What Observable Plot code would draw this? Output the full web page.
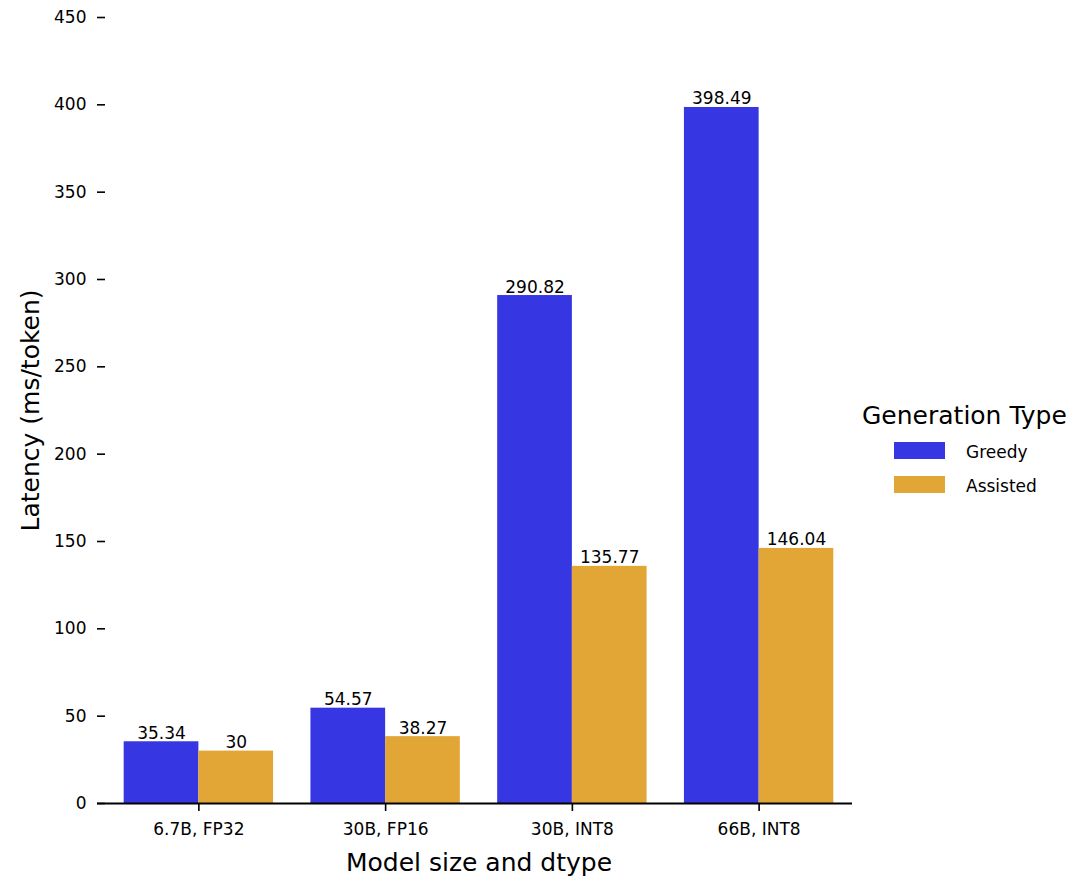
<!DOCTYPE html>
<html>
<head>
<meta charset="utf-8">
<script src="https://cdn.jsdelivr.net/npm/d3@7"></script>
<script src="https://cdn.jsdelivr.net/npm/@observablehq/plot@0.6"></script>
<style>
  html, body { margin: 0; padding: 0; background: #fff; overflow: hidden; }
  body { width: 1080px; height: 881px; position: relative; font-family: "DejaVu Sans", sans-serif; color: #000; }
  #chart { position: absolute; left: 0; top: 0; }
  #legend { position: absolute; left: 0; top: 0; width: 1080px; height: 881px; pointer-events: none; }
  .lg-title { position: absolute; left: 862px; top: 403px; font-size: 25px; line-height: 25px; white-space: nowrap; }
  .lg-sw { position: absolute; left: 894px; width: 51px; height: 17px; }
  .lg-lab { position: absolute; left: 966px; font-size: 17px; line-height: 17px; white-space: nowrap; }
</style>
</head>
<body>
<div id="chart"></div>
<div id="legend"></div>
<script>
// ---- data ----
const categories = ["6.7B, FP32", "30B, FP16", "30B, INT8", "66B, INT8"];
const seriesNames = ["Greedy", "Assisted"];
const greedy = [35.34, 54.57, 290.82, 398.49];
const assisted = [30, 38.27, 135.77, 146.04];
const seriesColors = ["#3636e2", "#e2a636"];
const yTicks = [0, 50, 100, 150, 200, 250, 300, 350, 400, 450];
const xLabel = "Model size and dtype";
const yLabel = "Latency (ms/token)";
const legendTitle = "Generation Type";

// ---- table built from arrays ----
const groupWidth = 0.8;
const barW = groupWidth / seriesNames.length;
const values = [greedy, assisted];
const rows = [];
seriesNames.forEach((s, si) => {
  categories.forEach((c, ci) => {
    const x1 = ci - groupWidth / 2 + si * barW;
    rows.push({category: c, series: s, value: values[si][ci], x1, x2: x1 + barW, xc: x1 + barW / 2});
  });
});

const chart = Plot.plot({
  width: 1080,
  height: 881,
  marginLeft: 105,
  marginRight: 228,
  marginTop: 17,
  marginBottom: 78,
  style: {fontFamily: "DejaVu Sans, sans-serif", fontSize: "17px", color: "#000", background: "#fff"},
  x: {type: "linear", domain: [-0.5, categories.length - 0.5]},
  y: {domain: [0, 450]},
  color: {domain: seriesNames, range: seriesColors},
  marks: [
    Plot.rectY(rows, {x1: "x1", x2: "x2", y1: 0, y2: "value", fill: "series"}),
    Plot.text(rows, {x: "xc", y: "value", text: d => String(d.value), lineAnchor: "bottom", dy: -3, fontSize: 17, fill: "#000"}),
    Plot.ruleY([0], {stroke: "#000", strokeWidth: 1.8, insetLeft: -8}),
    Plot.axisY({ticks: yTicks, tickSize: 8, tickPadding: 11, label: null, fontSize: 17, strokeWidth: 1.6, stroke: "#000"}),
    Plot.axisX({ticks: d3.range(categories.length), tickFormat: i => categories[i], tickSize: 8, tickPadding: 11, label: null, fontSize: 17, strokeWidth: 1.6, stroke: "#000"}),
    Plot.text([xLabel], {frameAnchor: "bottom", lineAnchor: "bottom", dy: 67, fontSize: 25, fill: "#000"}),
    Plot.text([yLabel], {frameAnchor: "left", textAnchor: "middle", lineAnchor: "middle", rotate: -90, dx: -75, fontSize: 25, fill: "#000"})
  ]
});
document.getElementById("chart").appendChild(chart);

// ---- legend (HTML) ----
const lg = document.getElementById("legend");
const t = document.createElement("div");
t.className = "lg-title";
t.textContent = legendTitle;
lg.appendChild(t);
const swTops = [442, 476];
const labTops = [444, 478];
seriesNames.forEach((s, i) => {
  const sw = document.createElement("div");
  sw.className = "lg-sw";
  sw.style.top = swTops[i] + "px";
  sw.style.background = seriesColors[i];
  lg.appendChild(sw);
  const lb = document.createElement("div");
  lb.className = "lg-lab";
  lb.style.top = labTops[i] + "px";
  lb.textContent = s;
  lg.appendChild(lb);
});
</script>
</body>
</html>
